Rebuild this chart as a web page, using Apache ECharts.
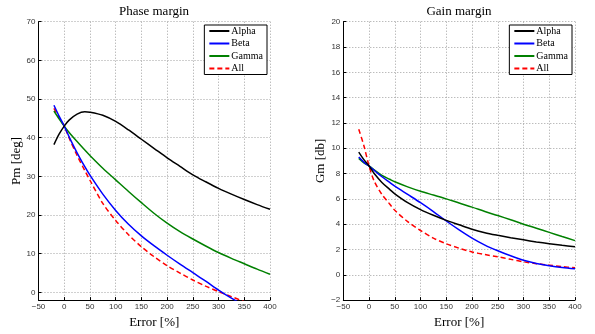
<!DOCTYPE html>
<html>
<head>
<meta charset="utf-8">
<script src="https://cdn.jsdelivr.net/npm/echarts@6/dist/echarts.min.js"></script>
<style>
  html, body { margin: 0; padding: 0; background: #fff; }
  #chart { width: 595px; height: 334px; }
</style>
</head>
<body>
<div id="chart"></div>
<script>
// error axis, shared by both plots
const errPct = [-20, -10, 0, 10, 25, 40, 50, 75, 100, 125, 150, 175, 200, 225, 250, 275, 300, 325, 350, 375, 400];

// phase margin [deg]
const pmAlpha = [38.2, 40.9, 43.0, 44.6, 46.1, 46.7, 46.6, 45.8, 44.2, 42.0, 39.6, 37.2, 34.8, 32.6, 30.4, 28.6, 26.9, 25.4, 24.0, 22.7, 21.5];
const pmBeta  = [48.4, 45.6, 43.0, 40.1, 36.1, 32.5, 30.3, 25.4, 21.2, 17.6, 14.6, 12.0, 9.6, 7.3, 5.1, 2.9, 0.6, -1.5, -3.4, null, null];
const pmGamma = [46.9, 44.9, 43.0, 41.3, 39.0, 36.8, 35.4, 32.1, 29.1, 26.1, 23.2, 20.4, 17.9, 15.7, 13.8, 12.0, 10.3, 8.8, 7.4, 6.0, 4.7];
const pmAll   = [47.6, 45.2, 43.0, 39.8, 35.4, 31.5, 29.0, 23.0, 18.6, 14.9, 11.8, 9.2, 6.9, 5.0, 3.2, 1.6, 0.2, -1.1, -2.4, null, null];

// gain margin [db]
const gmAlpha = [9.7, 9.1, 8.6, 8.0, 7.3, 6.75, 6.4, 5.7, 5.15, 4.7, 4.3, 3.95, 3.6, 3.33, 3.12, 2.93, 2.76, 2.6, 2.46, 2.33, 2.22];
const gmBeta  = [9.3, 8.9, 8.6, 8.25, 7.75, 7.3, 7.0, 6.35, 5.7, 5.0, 4.25, 3.55, 2.9, 2.35, 1.9, 1.5, 1.15, 0.9, 0.72, 0.58, 0.48];
const gmGamma = [9.2, 8.85, 8.6, 8.3, 7.85, 7.55, 7.35, 6.95, 6.6, 6.3, 6.0, 5.67, 5.35, 5.0, 4.68, 4.35, 4.0, 3.68, 3.35, 3.02, 2.7];
const gmAll   = [11.5, 10.2, 8.6, 7.4, 6.35, 5.6, 5.1, 4.2, 3.5, 2.9, 2.45, 2.1, 1.8, 1.6, 1.42, 1.22, 1.03, 0.88, 0.76, 0.65, 0.55];

const names = ['Alpha', 'Beta', 'Gamma', 'All'];
const colors = ['#000000', '#0000ff', '#008000', '#ff0000'];
const pmTicks = [0, 10, 20, 30, 40, 50, 60, 70];

const serif = "'Liberation Serif', 'Times New Roman', serif";
const sans = "'Liberation Sans', Helvetica, Arial, sans-serif";

const pairs = (ys) => errPct.map((x, i) => [x, ys[i]]).filter((p) => p[1] !== null);
const minus = (v) => String(v).replace('-', '\u2212');

const chart = echarts.init(document.getElementById('chart'));

const xAxisBase = (gridIndex) => ({
  type: 'value',
  gridIndex,
  min: -50,
  max: 400,
  interval: 50,
  name: 'Error [%]',
  nameLocation: 'middle',
  nameGap: 10,
  nameTextStyle: { fontFamily: serif, fontSize: 13, color: '#000' },
  axisLine: { onZero: false, lineStyle: { color: '#000', width: 1 } },
  axisTick: { inside: true, length: 3, lineStyle: { color: '#000' } },
  axisLabel: { fontFamily: sans, fontSize: 8, color: '#333', margin: 3, formatter: minus },
  splitLine: { show: true, lineStyle: { color: '#a0a0a0', width: 1, type: [1, 2] } },
});

const yAxisBase = (gridIndex, name) => ({
  type: 'value',
  gridIndex,
  name,
  nameLocation: 'middle',
  nameGap: 8,
  nameTextStyle: { fontFamily: serif, fontSize: 13, color: '#000' },
  axisLine: { onZero: false, lineStyle: { color: '#000', width: 1 } },
  axisTick: { inside: true, length: 3, lineStyle: { color: '#000' } },
  axisLabel: { fontFamily: sans, fontSize: 8, color: '#333', margin: 3, formatter: minus },
  splitLine: { show: true, lineStyle: { color: '#a0a0a0', width: 1, type: [1, 2] } },
});

const makeSeries = (i, data, axisIndex) => ({
  name: names[i],
  type: 'line',
  xAxisIndex: axisIndex,
  yAxisIndex: axisIndex,
  data: pairs(data),
  symbol: 'none',
  smooth: 0.3,
  clip: true,
  lineStyle: { color: colors[i], width: 1.5, type: i === 3 ? [5, 3] : 'solid' },
  itemStyle: { color: colors[i] },
  z: 10 - i,
});

const legendBase = {
  orient: 'vertical',
  top: 25,
  data: names,
  backgroundColor: '#fff',
  borderColor: '#000',
  borderWidth: 1,
  borderRadius: 0,
  padding: [1, 4, 1, 4],
  itemWidth: 20,
  itemHeight: 8,
  itemGap: 2.5,
  selectedMode: false,
  itemStyle: { opacity: 0, borderWidth: 0 },
  textStyle: { fontFamily: serif, fontSize: 10, color: '#000', padding: [0, 0, 0, -3] },
};

const option = {
  backgroundColor: '#fff',
  animation: false,
  title: [
    { text: 'Phase margin', left: 154, top: 5, textAlign: 'center', padding: 0,
      textStyle: { fontFamily: serif, fontSize: 13, fontWeight: 'normal', color: '#000' } },
    { text: 'Gain margin', left: 459, top: 5, textAlign: 'center', padding: 0,
      textStyle: { fontFamily: serif, fontSize: 13, fontWeight: 'normal', color: '#000' } },
  ],
  legend: [
    Object.assign({}, legendBase, { right: 328 }),
    Object.assign({}, legendBase, { right: 23 }),
  ],
  grid: [
    { left: 38.5, top: 21.7, width: 231.5, height: 284.3 },
    { left: 343.3, top: 21.7, width: 231.7, height: 284.3 },
  ],
  xAxis: [xAxisBase(0), xAxisBase(1)],
  yAxis: [
    Object.assign(yAxisBase(0, 'Pm [deg]'), {
      min: -2,
      max: 70,
      axisTick: { inside: true, length: 3, lineStyle: { color: '#000' }, customValues: pmTicks },
      axisLabel: { fontFamily: sans, fontSize: 8, color: '#333', margin: 3, formatter: minus, customValues: pmTicks },
    }),
    Object.assign(yAxisBase(1, 'Gm [db]'), { min: -2, max: 20, interval: 2 }),
  ],
  series: [
    makeSeries(0, pmAlpha, 0),
    makeSeries(1, pmBeta, 0),
    makeSeries(2, pmGamma, 0),
    makeSeries(3, pmAll, 0),
    makeSeries(0, gmAlpha, 1),
    makeSeries(1, gmBeta, 1),
    makeSeries(2, gmGamma, 1),
    makeSeries(3, gmAll, 1),
  ],
};

chart.setOption(option);

window.addEventListener('resize', function () {
  chart.resize();
});
</script>
</body>
</html>
